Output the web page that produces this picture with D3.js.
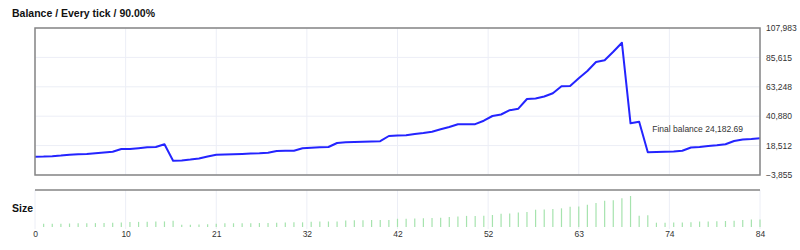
<!DOCTYPE html>
<html>
  <head>
    <meta charset="utf-8">
    <title>Balance</title>
    <script src="https://d3js.org/d3.v7.min.js"></script>
    <style>
      body { margin: 0; background: #fff; }
      svg { font-family: "Liberation Sans", Arial, sans-serif; }
      .tick text { fill: #333; font-size: 8.5px; }
    </style>
  </head>
  <body>
  <div id="chart"></div>
  <script>
    /* ------------------
      data
    ------------------ */

    // balance after each trade (index 0 = deposit)
    var balance = [
      10000, 10144, 10448, 10905, 11589, 11894, 12122, 12654, 13263, 13872,
      15926, 15990, 16534, 17219, 17447, 19502, 7024, 7253, 7861, 8698,
      10220, 11589, 11741, 11894, 12122, 12426, 12654, 13111, 14404, 14556,
      14632, 16458, 16915, 17219, 17447, 20491, 21023, 21251, 21480, 21632,
      21860, 25816, 26121, 26425, 27338, 28099, 29088, 30914, 32663, 34718,
      34718, 34800, 37456, 41032, 42173, 45445, 46586, 53966, 54422, 55868,
      58302, 63628, 63856, 69714, 75268, 82115, 83409, 89952, 96799, 35478,
      36696, 13415, 13643, 13795, 14024, 14632, 17067, 17447, 18208, 18741,
      19502, 22012, 23153, 23534, 24182.69
    ];

    // position size of trades 1..84
    var sizes = [
      1.00, 1.01, 1.04, 1.09, 1.16, 1.19, 1.21, 1.27, 1.33, 1.39,
      1.59, 1.60, 1.65, 1.72, 1.74, 1.95, 0.70, 0.73, 0.79, 0.87,
      1.02, 1.16, 1.17, 1.19, 1.21, 1.24, 1.27, 1.31, 1.44, 1.46,
      1.46, 1.65, 1.69, 1.72, 1.74, 2.05, 2.10, 2.13, 2.15, 2.16,
      2.19, 2.58, 2.61, 2.64, 2.73, 2.81, 2.91, 3.09, 3.27, 3.47,
      3.47, 3.48, 3.75, 4.10, 4.22, 4.54, 4.66, 5.40, 5.44, 5.59,
      5.83, 6.36, 6.39, 6.97, 7.53, 8.21, 8.34, 9.00, 9.68, 3.55,
      3.67, 1.34, 1.36, 1.38, 1.40, 1.46, 1.71, 1.74, 1.82, 1.87,
      1.95, 2.20, 2.32, 2.35
    ];

    var yTicks = [-3855, 18512, 40880, 63248, 85615, 107983];
    var xTicks = [0, 10.5, 21, 31.5, 42, 52.5, 63, 73.5, 84];
    var xTickLabels = ["0", "10", "21", "32", "42", "52", "63", "74", "84"];

    var title = "Balance / Every tick / 90.00%";
    var sizeTitle = "Size";
    var finalLabel = "Final balance " + d3.format(",.2f")(balance[balance.length - 1]);

    /* ------------------
      layout
    ------------------ */

    var W = 800, H = 250;
    var plotLeft = 35, plotRight = 760;
    var plotTop = 28, plotBottom = 175;
    var sepY = 190, sizeBase = 227, sizeH = 31;

    var svg = d3.select('#chart').append('svg')
      .attr('width', W).attr('height', H);

    var x = d3.scaleLinear().domain([0, 84]).range([plotLeft, plotRight]);
    var y = d3.scaleLinear().domain([yTicks[0], yTicks[yTicks.length - 1]]).range([plotBottom, plotTop]);
    var ySize = d3.scaleLinear().domain([0, d3.max(sizes)]).range([sizeBase, sizeBase - sizeH]);

    var gridColor = '#eceef6';

    // grid lines (top plot)
    svg.append('g').selectAll('line').data(yTicks).enter().append('line')
      .attr('x1', plotLeft).attr('x2', plotRight)
      .attr('y1', function(d) { return y(d); }).attr('y2', function(d) { return y(d); })
      .attr('stroke', gridColor).attr('stroke-width', 1);

    svg.append('g').selectAll('line').data(xTicks).enter().append('line')
      .attr('x1', function(d) { return x(d); }).attr('x2', function(d) { return x(d); })
      .attr('y1', plotTop).attr('y2', plotBottom)
      .attr('stroke', gridColor).attr('stroke-width', 1);

    // grid lines (size panel)
    svg.append('g').selectAll('line').data(xTicks).enter().append('line')
      .attr('x1', function(d) { return x(d); }).attr('x2', function(d) { return x(d); })
      .attr('y1', sepY).attr('y2', sizeBase + 2)
      .attr('stroke', gridColor).attr('stroke-width', 1);

    // balance line
    var line = d3.line()
      .x(function(d, i) { return x(i); })
      .y(function(d) { return y(d); });

    svg.append('path').datum(balance)
      .attr('d', line)
      .attr('fill', 'none')
      .attr('stroke', '#2424ff')
      .attr('stroke-width', 2)
      .attr('stroke-linejoin', 'round');

    // box around top plot
    svg.append('rect')
      .attr('x', plotLeft).attr('y', plotTop)
      .attr('width', plotRight - plotLeft).attr('height', plotBottom - plotTop)
      .attr('fill', 'none').attr('stroke', '#858585').attr('stroke-width', 1.5);

    // separator line
    svg.append('line')
      .attr('x1', plotLeft).attr('x2', plotRight)
      .attr('y1', sepY).attr('y2', sepY)
      .attr('stroke', '#858585').attr('stroke-width', 1.5);

    // size bars
    svg.append('g').selectAll('line').data(sizes).enter().append('line')
      .attr('x1', function(d, i) { return x(i + 1); })
      .attr('x2', function(d, i) { return x(i + 1); })
      .attr('y1', ySize(0))
      .attr('y2', function(d) { return ySize(d); })
      .attr('stroke', '#a6e3ae').attr('stroke-width', 1.2);

    // axes
    var yAxis = d3.axisRight(y).tickValues(yTicks).tickFormat(d3.format(',')).tickSize(0).tickPadding(6);
    svg.append('g').attr('transform', 'translate(' + plotRight + ',0)').call(yAxis)
      .call(function(g) { g.select('.domain').remove(); });

    var xAxis = d3.axisBottom(x).tickValues(xTicks)
      .tickFormat(function(d, i) { return xTickLabels[i]; })
      .tickSize(0).tickPadding(0);
    svg.append('g').attr('transform', 'translate(0,' + 231 + ')').call(xAxis)
      .call(function(g) { g.select('.domain').remove(); });

    svg.selectAll('.tick text').attr('font-family', '"Liberation Sans", Arial, sans-serif');

    // titles
    svg.append('text').attr('x', 12).attr('y', 17)
      .attr('font-size', '10.5px').attr('font-weight', 'bold').attr('fill', '#111')
      .text(title);

    svg.append('text').attr('x', 12).attr('y', 212)
      .attr('font-size', '10.5px').attr('font-weight', 'bold').attr('fill', '#111')
      .text(sizeTitle);

    // final balance label
    svg.append('text')
      .attr('x', x(84) - 17)
      .attr('y', y(balance[balance.length - 1]) - 6)
      .attr('text-anchor', 'end')
      .attr('font-size', '8.5px').attr('fill', '#333')
      .text(finalLabel);
  </script>
</body>
</html>
